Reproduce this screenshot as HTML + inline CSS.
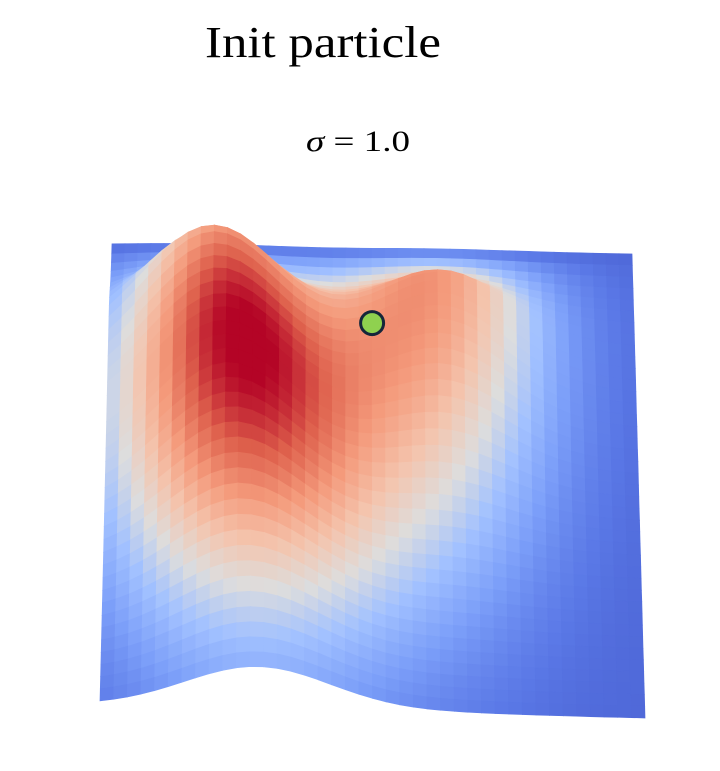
<!DOCTYPE html>
<html><head><meta charset="utf-8"><style>
html,body{margin:0;padding:0;background:#fff;}
svg{display:block;}
</style></head><body>
<svg id="chart" width="720" height="771" viewBox="0 0 720 771" xmlns="http://www.w3.org/2000/svg">
<text x="323" y="57" text-anchor="middle" font-family="Liberation Serif, serif" font-size="44" textLength="236" lengthAdjust="spacingAndGlyphs" fill="#000">Init particle</text>
<text x="358" y="151" text-anchor="middle" font-family="Liberation Serif, DejaVu Serif, serif" font-size="30" textLength="104" lengthAdjust="spacingAndGlyphs" fill="#000"><tspan font-style="italic">σ</tspan> = 1.0</text>
<g id="surface"></g>
<g id="marker"></g>
</svg>
<script>
// Surface height peaks (surface coordinates u: left->right, v: back->front)
const peakCenterU = [0.17, 0.63];
const peakShiftU = [0.12, 0.0];
const peakHeight = [130, 85];
const peakWidthU = [0.135, 0.13];
const peakCenterV = [0.25, 0.25];
const peakBackSigma = [0.09, 0.09];
const peakFrontSigma = [0.5, 0.25];
// Colour field peaks
const colorAmp = [0.92, 0.62];
const colorCenterU = [0.22, 0.63];
const colorShiftU = [0.07, 0.0];
const colorWidthU = [0.18, 0.15];
const colorCenterV = [0.45, 0.2];
const colorBackSigma = [0.27, 0.2];
const colorFrontSigma = [0.33, 0.35];
const colorBase = 0.08;
// Particle position (surface coords)
const particleU = [0.5];
const particleV = [0.295];

const NU = 40, NV = 40;
const cmapStops = [0,0.125,0.25,0.375,0.5,0.625,0.75,0.875,1];
const cmapCols = [[59,76,192],[90,120,230],[124,159,249],[162,193,255],[221,221,221],[244,196,173],[244,154,123],[222,96,76],[180,4,38]];

function gv(v,c,sb,sf){const s=v<c?sb:sf;return Math.exp(-(v-c)*(v-c)/(2*s*s));}
function height(u,v){
  let d=0;
  for(let i=0;i<peakHeight.length;i++){
    const cu=peakCenterU[i]+peakShiftU[i]*v;
    d+=peakHeight[i]*Math.exp(-(u-cu)*(u-cu)/(2*peakWidthU[i]*peakWidthU[i]))*gv(v,peakCenterV[i],peakBackSigma[i],peakFrontSigma[i]);
  }
  return d;
}
function colorVal(u,v){
  let c=0;
  for(let i=0;i<colorAmp.length;i++){
    const cu=colorCenterU[i]+colorShiftU[i]*v;
    c+=colorAmp[i]*Math.exp(-(u-cu)*(u-cu)/(2*colorWidthU[i]*colorWidthU[i]))*gv(v,colorCenterV[i],colorBackSigma[i],colorFrontSigma[i]);
  }
  c*= (1-Math.exp(-v/0.04));
  return Math.max(0,Math.min(1,colorBase+c));
}
function sx(u,v){return 112-12*v+u*(520+25*v);}
function sy(u,v){return 245+9*u+v*(460+4*u)-height(u,v);}
function cmap(t){
  for(let i=1;i<cmapStops.length;i++){
    if(t<=cmapStops[i]){
      const f=(t-cmapStops[i-1])/(cmapStops[i]-cmapStops[i-1]);
      const a=cmapCols[i-1],b=cmapCols[i];
      return 'rgb('+Math.round(a[0]+(b[0]-a[0])*f)+','+Math.round(a[1]+(b[1]-a[1])*f)+','+Math.round(a[2]+(b[2]-a[2])*f)+')';
    }
  }
  return 'rgb(180,4,38)';
}
const NS='http://www.w3.org/2000/svg';
const g=document.getElementById('surface');
for(let j=0;j<NV;j++){
  for(let i=0;i<NU;i++){
    const u0=i/NU,u1=(i+1)/NU,v0=j/NV,v1=(j+1)/NV;
    const pts=[[u0,v0],[u1,v0],[u1,v1],[u0,v1]].map(p=>sx(p[0],p[1]).toFixed(1)+','+sy(p[0],p[1]).toFixed(1)).join(' ');
    const col=cmap(colorVal((u0+u1)/2,(v0+v1)/2));
    const poly=document.createElementNS(NS,'polygon');
    poly.setAttribute('points',pts);
    poly.setAttribute('fill',col);
    poly.setAttribute('stroke',col);
    poly.setAttribute('stroke-width','0.7');
    
    
    g.appendChild(poly);
  }
}
const m=document.getElementById('marker');
for(let k=0;k<particleU.length;k++){
  const c=document.createElementNS(NS,'circle');
  c.setAttribute('cx',sx(particleU[k],particleV[k]).toFixed(1));
  c.setAttribute('cy',sy(particleU[k],particleV[k]).toFixed(1));
  c.setAttribute('r','11.5');
  c.setAttribute('fill','#8fd14f');
  c.setAttribute('stroke','#15263a');
  c.setAttribute('stroke-width','3');
  
  
  m.appendChild(c);
}
</script>
</body></html>
